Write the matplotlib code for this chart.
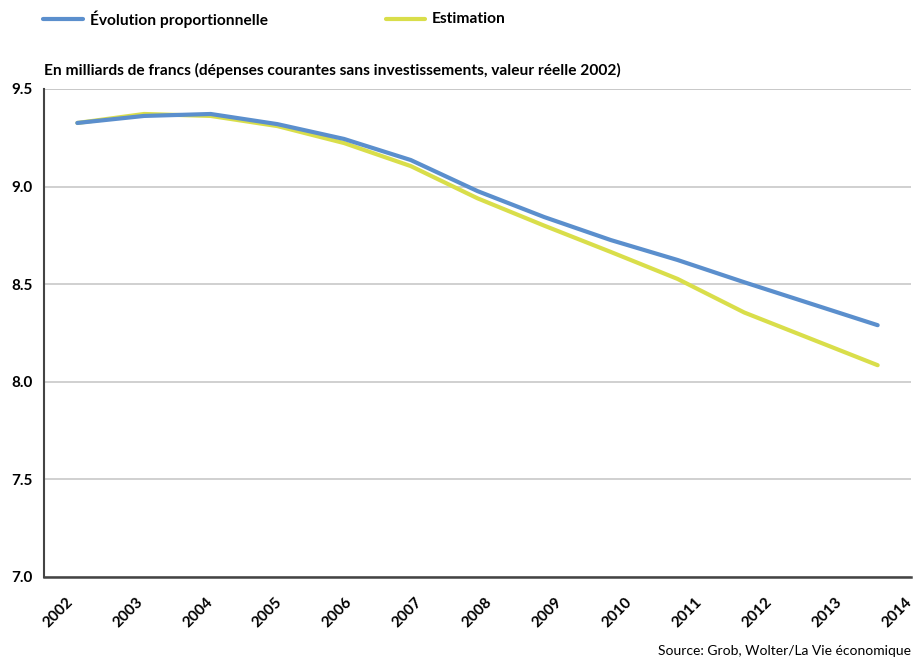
import matplotlib
matplotlib.use("Agg")
import matplotlib.pyplot as plt
from matplotlib.lines import Line2D
from matplotlib.transforms import ScaledTranslation

plt.rcParams["font.family"] = ["Lato", "DejaVu Sans"]

years = [str(y) for y in range(2002, 2015)]
proportional = [9.326, 9.362, 9.372, 9.32, 9.244, 9.136, 8.977, 8.844, 8.726, 8.624, 8.51, 8.40, 8.29]
estimation = [9.326, 9.372, 9.362, 9.31, 9.223, 9.105, 8.94, 8.80, 8.665, 8.527, 8.355, 8.22, 8.085]
yticks = [7.0, 7.5, 8.0, 8.5, 9.0, 9.5]

BLUE, YELLOW = "#5b8fcd", "#d9de4a"
W, H = 914, 659

fig = plt.figure(figsize=(9.14, 6.59), dpi=100)
ax = fig.add_axes([44 / W, 1 - 577 / H, 867 / W, 488 / H])

x = range(len(years))
ax.plot(x, estimation, color=YELLOW, lw=3.0, solid_capstyle="round", zorder=3)
ax.plot(x, proportional, color=BLUE, lw=3.0, solid_capstyle="round", zorder=4)

ax.set_xlim(-0.5, len(years) - 0.5)
ax.set_ylim(7.0, 9.5)
ax.set_yticks(yticks)
ax.set_yticklabels([f"{v:.1f}" for v in yticks], fontsize=11, fontweight="bold")
ax.set_xticks(list(x))
ax.set_xticklabels(years, rotation=45, ha="right", va="center", rotation_mode="anchor",
                   fontsize=11, fontweight="bold")
ax.tick_params(axis="y", length=0, pad=8)
ax.tick_params(axis="x", length=0, pad=16.5)
# labels in the original are spread a little wider than the categories
for k, lab in enumerate(ax.get_xticklabels()):
    dx = (-7 + 3.23 * k) / 100
    lab.set_transform(lab.get_transform() + ScaledTranslation(dx, 0, fig.dpi_scale_trans))

ax.grid(axis="y", color="#c8c8c8", lw=1.2)
ax.set_axisbelow(True)
for s in ["top", "right"]:
    ax.spines[s].set_visible(False)
ax.spines["left"].set_color("#444444")
ax.spines["bottom"].set_color("#444444")
ax.spines["left"].set_linewidth(1.5)
ax.spines["bottom"].set_linewidth(1.8)
ax.axhline(9.5, color="#c8c8c8", lw=1.2, zorder=1)

# legend at top
ly = 1 - 19 / H
fig.add_artist(Line2D([43 / W, 83 / W], [ly, ly], color=BLUE, lw=3.0, solid_capstyle="round"))
fig.text(90 / W, ly, "Évolution proportionnelle", fontsize=11.2, fontweight="bold", va="center")
fig.add_artist(Line2D([386 / W, 425 / W], [ly, ly], color=YELLOW, lw=3.0, solid_capstyle="round"))
fig.text(432 / W, ly, "Estimation", fontsize=11.2, fontweight="bold", va="center")

fig.text(44 / W, 1 - 70 / H,
         "En milliards de francs (dépenses courantes sans investissements, valeur réelle 2002)",
         fontsize=11.2, fontweight="bold", va="center")
fig.text(911 / W, 1 - 651 / H, "Source: Grob, Wolter/La Vie économique",
         fontsize=10, ha="right", va="center")

fig.savefig("out.png", dpi=100)
